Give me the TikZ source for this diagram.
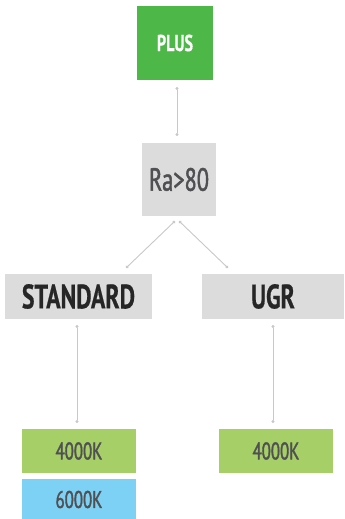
\documentclass[tikz,border=0pt]{standalone}
\usepackage{fontspec}
\setmainfont{PT Sans}[FakeStretch=0.7,FakeBold=1.5,BoldFont={* Bold},BoldFeatures={FakeStretch=0.7,FakeBold=0.5}]
\usetikzlibrary{arrows.meta}
\definecolor{plusgreen}{HTML}{4DB848}
\definecolor{boxgray}{HTML}{DCDCDD}
\definecolor{lightgreen}{HTML}{A6CF67}
\definecolor{lightblue}{HTML}{7DD1F5}
\definecolor{txtgray}{HTML}{505052}
\definecolor{linegray}{HTML}{C8C8CA}
\tikzset{
  box/.style={draw=none, inner sep=0pt, anchor=center},
  conn/.style={draw=linegray, line width=0.9pt, {Circle[length=3pt]}-{Circle[length=3pt]}},
}
\begin{document}
\begin{tikzpicture}[x=1pt,y=-1pt]
\useasboundingbox (0,0) rectangle (345,519);
\node[box, fill=plusgreen, minimum width=76pt, minimum height=74pt, text=white, font=\fontsize{23}{23}\selectfont\bfseries] (plus) at (175,43) {PLUS};
\node[box, fill=boxgray, minimum width=74pt, minimum height=73pt, text=txtgray, font=\fontsize{32}{32}\selectfont] (ra) at (179,179.5) {Ra>80};
\node[box, fill=boxgray, minimum width=147pt, minimum height=45pt, text=black!85, font=\fontsize{34}{34}\selectfont\bfseries] (std) at (78.5,296.5) {STANDARD};
\node[box, fill=boxgray, minimum width=142pt, minimum height=45pt, text=black!85, font=\fontsize{34}{34}\selectfont\bfseries] (ugr) at (273,296.5) {UGR};
\node[box, fill=lightgreen, minimum width=114pt, minimum height=44pt, text=txtgray, font=\fontsize{24}{24}\selectfont] (k1) at (79,451) {4000K};
\node[box, fill=lightgreen, minimum width=114pt, minimum height=44pt, text=txtgray, font=\fontsize{24}{24}\selectfont] (k3) at (276,451) {4000K};
\node[box, fill=lightblue, minimum width=114pt, minimum height=41pt, text=txtgray, font=\fontsize{24}{24}\selectfont] (k2) at (79,499.5) {6000K};
\coordinate (p1) at (177,87);
\coordinate (p2) at (177,136);
\coordinate (r1) at (175,221);
\coordinate (r2) at (179,221);
\coordinate (s1) at (126,268);
\coordinate (u1) at (228,268);
\coordinate (s2) at (77,325);
\coordinate (s3) at (77,423);
\coordinate (u2) at (273,325);
\coordinate (u3) at (273,423);
\draw[conn] (p1) -- (p2);
\draw[conn] (r1) -- (s1);
\draw[conn] (r2) -- (u1);
\draw[conn] (s2) -- (s3);
\draw[conn] (u2) -- (u3);
\end{tikzpicture}
\end{document}
